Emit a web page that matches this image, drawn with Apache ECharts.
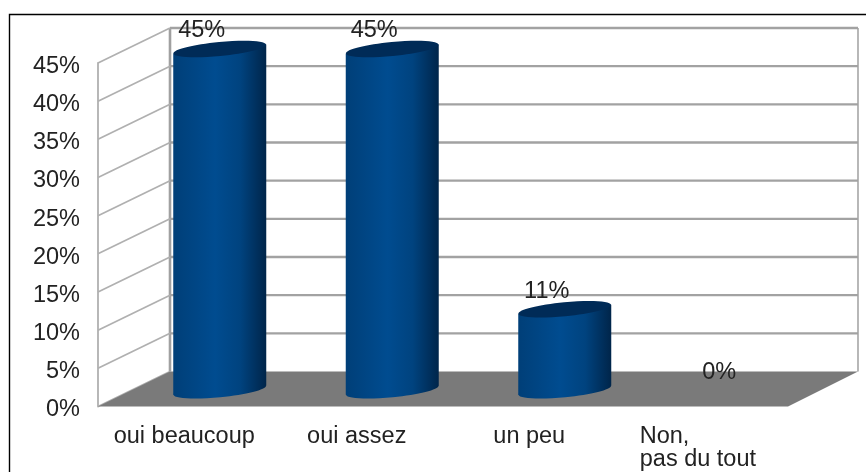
<!DOCTYPE html>
<html>
<head>
<meta charset="utf-8">
<style>html,body{margin:0;padding:0;background:#fff}#c{width:866px;height:472px;filter:blur(0.5px)}</style>
<script src="https://cdn.jsdelivr.net/npm/echarts@6/dist/echarts.min.js"></script>
</head>
<body>
<div id="c"></div>
<script>
const categories = ['oui beaucoup', 'oui assez', 'un peu', 'Non,\npas du tout'];
const percentValues = [44.7, 44.7, 10.6, 0];
const percentTicks = [0, 5, 10, 15, 20, 25, 30, 35, 40, 45];

const DEPTH_X = 72, DEPTH_Y = 35;
const BAR_SHIFT_X = 35.5, BAR_SHIFT_Y = 16.3, BAR_W = 93;
const TILT = 5.5 * Math.PI / 180, EL_RX = 46.5, EL_RY = 7;
const TEXT = '#222222', FONT = '"Liberation Sans", Arial, sans-serif', FS = 23.5;
const WALL = '#b0b0b0';

const chart = echarts.init(document.getElementById('c'), null, {renderer: 'canvas'});

function wallItem(params, api) {
  const cs = params.coordSys;
  const v = api.value(0);
  const y = api.coord([0, v])[1];
  const kids = [];
  if (params.dataIndex === 0) {
    const bottom = cs.y + cs.height, right = cs.x + cs.width;
    kids.push({type: 'polygon', shape: {points: [
      [cs.x, bottom], [right, bottom], [right + DEPTH_X - 2, bottom - DEPTH_Y],
      [cs.x + DEPTH_X, bottom - DEPTH_Y]]}, style: {fill: '#7a7a7a'}, z2: 1});
    kids.push({type: 'line', shape: {x1: cs.x + DEPTH_X, y1: cs.y - DEPTH_Y, x2: cs.x + DEPTH_X, y2: bottom - DEPTH_Y},
      style: {stroke: '#a0a0a0', lineWidth: 2.6}, z2: 0});
    kids.push({type: 'line', shape: {x1: right + DEPTH_X - 2, y1: cs.y - DEPTH_Y, x2: right + DEPTH_X - 2, y2: bottom - DEPTH_Y},
      style: {stroke: WALL, lineWidth: 1.8}, z2: 0});
  }
  kids.push({type: 'line', shape: {x1: cs.x, y1: y, x2: cs.x + DEPTH_X, y2: y - DEPTH_Y},
    style: {stroke: WALL, lineWidth: 1.7}, z2: 0});
  if (v > 0) {
    kids.push({type: 'line', shape: {x1: cs.x + DEPTH_X, y1: y - DEPTH_Y, x2: cs.x + cs.width + DEPTH_X - 2, y2: y - DEPTH_Y},
      style: {stroke: '#a2a2a2', lineWidth: 2.4}, z2: 0});
  }
  return {type: 'group', children: kids};
}

function barItem(params, api) {
  const i = api.value(0), v = api.value(1);
  const top = api.coord([i, v]), base = api.coord([i, 0]);
  const cx = top[0] + BAR_SHIFT_X;
  const yt = top[1] - BAR_SHIFT_Y, yb = base[1] - BAR_SHIFT_Y;
  const label = {type: 'text', x: cx - 18, y: yt - 18, z2: 5,
    style: {text: Math.round(v) + '%', fill: TEXT, font: FS + 'px ' + FONT, align: 'center', verticalAlign: 'middle'}};
  if (v <= 0) return {type: 'group', children: [label]};
  const t = EL_RX * Math.sin(TILT);
  const fill = new echarts.graphic.LinearGradient(0, 0, 1, 0, [
    {offset: 0, color: '#003f78'}, {offset: 0.45, color: '#004c90'},
    {offset: 0.72, color: '#00437f'}, {offset: 1, color: '#00254a'}]);
  return {type: 'group', children: [
    {type: 'ellipse', shape: {cx: cx, cy: yb, rx: EL_RX, ry: EL_RY}, rotation: TILT, originX: cx, originY: yb, style: {fill: fill}, z2: 2},
    {type: 'polygon', shape: {points: [[cx - BAR_W / 2, yt + t], [cx + BAR_W / 2, yt - t], [cx + BAR_W / 2, yb - t], [cx - BAR_W / 2, yb + t]]}, style: {fill: fill}, z2: 3},
    {type: 'ellipse', shape: {cx: cx, cy: yt, rx: EL_RX, ry: EL_RY}, rotation: TILT, originX: cx, originY: yt, style: {fill: '#002b57'}, z2: 4},
    label
  ]};
}

chart.setOption({
  animation: false,
  backgroundColor: '#ffffff',
  grid: {left: 98, right: 78, top: 63, bottom: 65},
  xAxis: {
    type: 'category', data: categories,
    axisLine: {show: false}, axisTick: {show: false}, splitLine: {show: false},
    axisLabel: {
      interval: 0, margin: 19, color: TEXT, fontFamily: FONT, fontSize: FS, lineHeight: 23, verticalAlign: 'top',
      formatter: function (s) {
        return s.indexOf('\n') < 0 ? s : s.split('\n').map(function (l) { return '{l|' + l + '}'; }).join('\n');
      },
      rich: {l: {width: 124, align: 'left', color: TEXT, fontFamily: FONT, fontSize: FS, lineHeight: 23}}
    }
  },
  yAxis: {
    type: 'value', min: 0, max: 45, interval: 5,
    axisLine: {show: true, lineStyle: {color: WALL, width: 1.8}},
    axisTick: {show: false}, splitLine: {show: false},
    axisLabel: {margin: 18, color: TEXT, fontFamily: FONT, fontSize: FS, verticalAlign: 'top', lineHeight: 7, formatter: '{value}%'}
  },
  graphic: [
    {type: 'polyline', silent: true, shape: {points: [[9.5, 472], [9.5, 14.5], [866, 14.5]]}, style: {stroke: '#000', lineWidth: 1.4, fill: null}}
  ],
  series: [
    {type: 'custom', name: 'walls', coordinateSystem: 'cartesian2d', silent: true, z: 1, clip: false,
      data: percentTicks.map(function (v) { return [v]; }), encode: {y: 0}, renderItem: wallItem},
    {type: 'custom', name: 'bars', coordinateSystem: 'cartesian2d', z: 3, clip: false,
      data: percentValues.map(function (v, i) { return [i, v]; }), encode: {x: 0, y: 1}, renderItem: barItem}
  ]
});
</script>
</body>
</html>
